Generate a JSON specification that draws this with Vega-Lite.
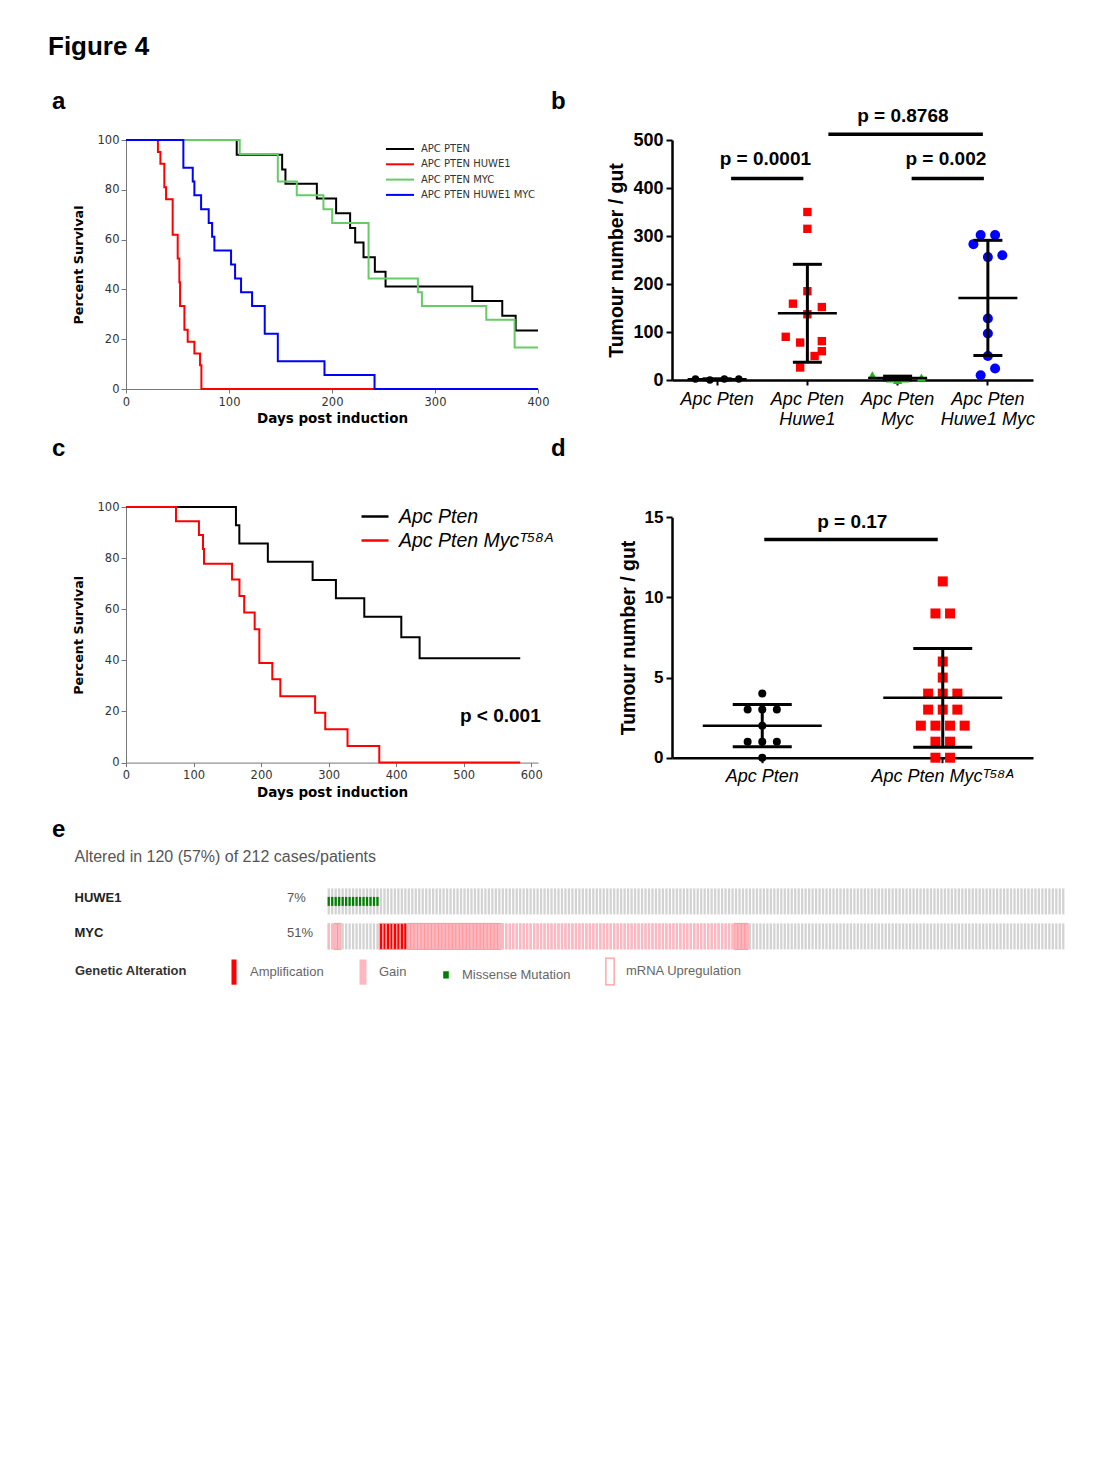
{
"$schema":"https://vega.github.io/schema/vega-lite/v6.json",
"background":"white",
"padding":{"left":48,"top":34,"right":20,"bottom":20},
"title":{"text":"Figure 4","anchor":"start","frame":"group","dx":-78,"offset":9,"baseline":"alphabetic","font":"Liberation Sans","fontSize":26,"fontWeight":"bold","color":"#000"},
"columns":2,
"align":"each",
"bounds":"flush",
"spacing":{"row":118,"column":134},
"resolve":{"scale":{"color":"independent","shape":"independent","size":"independent","xOffset":"independent","x":"independent","y":"independent"},"legend":{"color":"independent","shape":"independent"}},
"config":{"view":{"stroke":null},"axis":{"grid":false},"font":"Liberation Sans","legend":{"padding":0}},
"datasets":{
"aSurv":[
{"group":"APC PTEN HUWE1","day":0,"pct":100},{"group":"APC PTEN HUWE1","day":31,"pct":95.2},{"group":"APC PTEN HUWE1","day":33.4,"pct":90.5},{"group":"APC PTEN HUWE1","day":37.2,"pct":81},{"group":"APC PTEN HUWE1","day":38.9,"pct":76.2},{"group":"APC PTEN HUWE1","day":45.3,"pct":61.9},{"group":"APC PTEN HUWE1","day":50.2,"pct":52.4},{"group":"APC PTEN HUWE1","day":51.8,"pct":42.9},{"group":"APC PTEN HUWE1","day":52.5,"pct":33.3},{"group":"APC PTEN HUWE1","day":56.7,"pct":23.8},{"group":"APC PTEN HUWE1","day":59.9,"pct":19},{"group":"APC PTEN HUWE1","day":66.4,"pct":14.3},{"group":"APC PTEN HUWE1","day":71.9,"pct":9.5},{"group":"APC PTEN HUWE1","day":73.2,"pct":0},{"group":"APC PTEN HUWE1","day":400,"pct":0},
{"group":"APC PTEN","day":0,"pct":100},{"group":"APC PTEN","day":107.5,"pct":94.1},{"group":"APC PTEN","day":151.6,"pct":88.2},{"group":"APC PTEN","day":154.8,"pct":82.4},{"group":"APC PTEN","day":185.3,"pct":76.5},{"group":"APC PTEN","day":204,"pct":70.6},{"group":"APC PTEN","day":217.6,"pct":64.7},{"group":"APC PTEN","day":222.5,"pct":58.8},{"group":"APC PTEN","day":230.6,"pct":52.9},{"group":"APC PTEN","day":241.6,"pct":47.1},{"group":"APC PTEN","day":252,"pct":41.2},{"group":"APC PTEN","day":336.2,"pct":35.3},{"group":"APC PTEN","day":365.3,"pct":29.4},{"group":"APC PTEN","day":378.3,"pct":23.5},{"group":"APC PTEN","day":400,"pct":23.5},
{"group":"APC PTEN MYC","day":0,"pct":100},{"group":"APC PTEN MYC","day":110.4,"pct":94.4},{"group":"APC PTEN MYC","day":147.4,"pct":83.3},{"group":"APC PTEN MYC","day":165.8,"pct":77.8},{"group":"APC PTEN MYC","day":191.7,"pct":72.2},{"group":"APC PTEN MYC","day":200.2,"pct":66.7},{"group":"APC PTEN MYC","day":235.5,"pct":44.4},{"group":"APC PTEN MYC","day":283.4,"pct":38.9},{"group":"APC PTEN MYC","day":287.3,"pct":33.3},{"group":"APC PTEN MYC","day":349.8,"pct":27.8},{"group":"APC PTEN MYC","day":377.3,"pct":16.7},{"group":"APC PTEN MYC","day":400,"pct":16.7},
{"group":"APC PTEN HUWE1 MYC","day":0,"pct":100},{"group":"APC PTEN HUWE1 MYC","day":55.7,"pct":88.9},{"group":"APC PTEN HUWE1 MYC","day":64.8,"pct":83.3},{"group":"APC PTEN HUWE1 MYC","day":66.4,"pct":77.8},{"group":"APC PTEN HUWE1 MYC","day":72.9,"pct":72.2},{"group":"APC PTEN HUWE1 MYC","day":80.3,"pct":66.7},{"group":"APC PTEN HUWE1 MYC","day":83.6,"pct":61.1},{"group":"APC PTEN HUWE1 MYC","day":85.8,"pct":55.6},{"group":"APC PTEN HUWE1 MYC","day":102,"pct":50},{"group":"APC PTEN HUWE1 MYC","day":105.9,"pct":44.4},{"group":"APC PTEN HUWE1 MYC","day":111.7,"pct":38.9},{"group":"APC PTEN HUWE1 MYC","day":122.4,"pct":33.3},{"group":"APC PTEN HUWE1 MYC","day":134.7,"pct":22.2},{"group":"APC PTEN HUWE1 MYC","day":147.4,"pct":11.1},{"group":"APC PTEN HUWE1 MYC","day":192.7,"pct":5.6},{"group":"APC PTEN HUWE1 MYC","day":241.3,"pct":0},{"group":"APC PTEN HUWE1 MYC","day":400,"pct":0}
],
"bPts":[
{"group":"Apc Pten","value":2,"slot":-3},{"group":"Apc Pten","value":0,"slot":-1},{"group":"Apc Pten","value":2,"slot":1},{"group":"Apc Pten","value":2,"slot":3},
{"group":"Apc Pten|Huwe1","value":350,"slot":0},{"group":"Apc Pten|Huwe1","value":315,"slot":0},{"group":"Apc Pten|Huwe1","value":185,"slot":0},{"group":"Apc Pten|Huwe1","value":159,"slot":-2},{"group":"Apc Pten|Huwe1","value":152,"slot":2},{"group":"Apc Pten|Huwe1","value":137,"slot":0},{"group":"Apc Pten|Huwe1","value":90,"slot":-3},{"group":"Apc Pten|Huwe1","value":78,"slot":-1},{"group":"Apc Pten|Huwe1","value":81,"slot":2},{"group":"Apc Pten|Huwe1","value":60,"slot":2},{"group":"Apc Pten|Huwe1","value":50,"slot":1},{"group":"Apc Pten|Huwe1","value":26,"slot":-1},
{"group":"Apc Pten|Myc","value":10,"slot":-3.5},{"group":"Apc Pten|Myc","value":3,"slot":-1},{"group":"Apc Pten|Myc","value":0,"slot":0},{"group":"Apc Pten|Myc","value":3,"slot":1},{"group":"Apc Pten|Myc","value":5,"slot":3.3},
{"group":"Apc Pten|Huwe1 Myc","value":302,"slot":-1},{"group":"Apc Pten|Huwe1 Myc","value":302,"slot":1},{"group":"Apc Pten|Huwe1 Myc","value":283,"slot":-2},{"group":"Apc Pten|Huwe1 Myc","value":256,"slot":0},{"group":"Apc Pten|Huwe1 Myc","value":260,"slot":2},{"group":"Apc Pten|Huwe1 Myc","value":128,"slot":0},{"group":"Apc Pten|Huwe1 Myc","value":97,"slot":0},{"group":"Apc Pten|Huwe1 Myc","value":50,"slot":0},{"group":"Apc Pten|Huwe1 Myc","value":10,"slot":-1},{"group":"Apc Pten|Huwe1 Myc","value":24,"slot":1}
],
"bSum":[
{"group":"Apc Pten","mean":1.5,"lo":0.5,"hi":2.5},{"group":"Apc Pten|Huwe1","mean":139,"lo":37,"hi":241},{"group":"Apc Pten|Myc","mean":4.2,"lo":0.4,"hi":8},{"group":"Apc Pten|Huwe1 Myc","mean":171,"lo":51,"hi":291}
],
"cSurv":[
{"group":"Apc Pten","day":0,"pct":100},{"group":"Apc Pten","day":162.8,"pct":92.9},{"group":"Apc Pten","day":167.8,"pct":85.7},{"group":"Apc Pten","day":210,"pct":78.6},{"group":"Apc Pten","day":276.3,"pct":71.4},{"group":"Apc Pten","day":310.8,"pct":64.3},{"group":"Apc Pten","day":352.8,"pct":57.1},{"group":"Apc Pten","day":407.6,"pct":49},{"group":"Apc Pten","day":434.7,"pct":40.8},{"group":"Apc Pten","day":583.7,"pct":40.8},
{"group":"Apc Pten Myc\u1d40\u2075\u2078\u1d2c","day":0,"pct":100},{"group":"Apc Pten Myc\u1d40\u2075\u2078\u1d2c","day":74,"pct":94.4},{"group":"Apc Pten Myc\u1d40\u2075\u2078\u1d2c","day":108,"pct":89},{"group":"Apc Pten Myc\u1d40\u2075\u2078\u1d2c","day":114,"pct":83.6},{"group":"Apc Pten Myc\u1d40\u2075\u2078\u1d2c","day":115.5,"pct":77.8},{"group":"Apc Pten Myc\u1d40\u2075\u2078\u1d2c","day":157,"pct":71.6},{"group":"Apc Pten Myc\u1d40\u2075\u2078\u1d2c","day":168,"pct":65.2},{"group":"Apc Pten Myc\u1d40\u2075\u2078\u1d2c","day":175,"pct":58.7},{"group":"Apc Pten Myc\u1d40\u2075\u2078\u1d2c","day":190.5,"pct":52.2},{"group":"Apc Pten Myc\u1d40\u2075\u2078\u1d2c","day":197.4,"pct":39},{"group":"Apc Pten Myc\u1d40\u2075\u2078\u1d2c","day":216.6,"pct":32.6},{"group":"Apc Pten Myc\u1d40\u2075\u2078\u1d2c","day":228.5,"pct":26},{"group":"Apc Pten Myc\u1d40\u2075\u2078\u1d2c","day":280,"pct":19.5},{"group":"Apc Pten Myc\u1d40\u2075\u2078\u1d2c","day":295,"pct":13},{"group":"Apc Pten Myc\u1d40\u2075\u2078\u1d2c","day":328,"pct":6.5},{"group":"Apc Pten Myc\u1d40\u2075\u2078\u1d2c","day":375,"pct":0},{"group":"Apc Pten Myc\u1d40\u2075\u2078\u1d2c","day":583.7,"pct":0}
],
"dPts":[
{"group":"Apc Pten","value":4,"slot":0},{"group":"Apc Pten","value":3,"slot":-2},{"group":"Apc Pten","value":3,"slot":0},{"group":"Apc Pten","value":3,"slot":2},{"group":"Apc Pten","value":2,"slot":0},{"group":"Apc Pten","value":1,"slot":-2},{"group":"Apc Pten","value":1,"slot":0},{"group":"Apc Pten","value":1,"slot":2},{"group":"Apc Pten","value":0,"slot":0},
{"group":"Apc Pten Myc\u1d40\u2075\u2078\u1d2c","value":11,"slot":0},{"group":"Apc Pten Myc\u1d40\u2075\u2078\u1d2c","value":9,"slot":-1},{"group":"Apc Pten Myc\u1d40\u2075\u2078\u1d2c","value":9,"slot":1},{"group":"Apc Pten Myc\u1d40\u2075\u2078\u1d2c","value":6,"slot":0},{"group":"Apc Pten Myc\u1d40\u2075\u2078\u1d2c","value":5,"slot":0},{"group":"Apc Pten Myc\u1d40\u2075\u2078\u1d2c","value":4,"slot":-2},{"group":"Apc Pten Myc\u1d40\u2075\u2078\u1d2c","value":4,"slot":0},{"group":"Apc Pten Myc\u1d40\u2075\u2078\u1d2c","value":4,"slot":2},{"group":"Apc Pten Myc\u1d40\u2075\u2078\u1d2c","value":3,"slot":-2},{"group":"Apc Pten Myc\u1d40\u2075\u2078\u1d2c","value":3,"slot":0},{"group":"Apc Pten Myc\u1d40\u2075\u2078\u1d2c","value":3,"slot":2},{"group":"Apc Pten Myc\u1d40\u2075\u2078\u1d2c","value":2,"slot":-3},{"group":"Apc Pten Myc\u1d40\u2075\u2078\u1d2c","value":2,"slot":-1},{"group":"Apc Pten Myc\u1d40\u2075\u2078\u1d2c","value":2,"slot":1},{"group":"Apc Pten Myc\u1d40\u2075\u2078\u1d2c","value":2,"slot":3},{"group":"Apc Pten Myc\u1d40\u2075\u2078\u1d2c","value":1,"slot":-1},{"group":"Apc Pten Myc\u1d40\u2075\u2078\u1d2c","value":1,"slot":1},{"group":"Apc Pten Myc\u1d40\u2075\u2078\u1d2c","value":0,"slot":-1},{"group":"Apc Pten Myc\u1d40\u2075\u2078\u1d2c","value":0,"slot":1}
],
"dSum":[
{"group":"Apc Pten","mean":2,"lo":0.68,"hi":3.32},{"group":"Apc Pten Myc\u1d40\u2075\u2078\u1d2c","mean":3.74,"lo":0.65,"hi":6.82}
],
"eCases":[
{"c":1,"HUWE1":"M","MYC":"G"},{"c":2,"HUWE1":"M","MYC":"G"},{"c":3,"HUWE1":"M","MYC":"G","R":1},{"c":4,"HUWE1":"M","MYC":"G","R":1},
{"c":5,"HUWE1":"M"},{"c":6,"HUWE1":"M"},{"c":7,"HUWE1":"M"},{"c":8,"HUWE1":"M"},{"c":9,"HUWE1":"M"},{"c":10,"HUWE1":"M"},{"c":11,"HUWE1":"M"},{"c":12,"HUWE1":"M"},{"c":13,"HUWE1":"M"},{"c":14,"HUWE1":"M"},{"c":15,"HUWE1":"M"},
{"c":16,"MYC":"A","R":1},{"c":17,"MYC":"A","R":1},{"c":18,"MYC":"A","R":1},{"c":19,"MYC":"A","R":1},{"c":20,"MYC":"A","R":1},{"c":21,"MYC":"A","R":1},{"c":22,"MYC":"A","R":1},{"c":23,"MYC":"A"},
{"c":24,"MYC":"G","R":1},{"c":25,"MYC":"G","R":1},{"c":26,"MYC":"G","R":1},{"c":27,"MYC":"G","R":1},{"c":28,"MYC":"G","R":1},{"c":29,"MYC":"G","R":1},{"c":30,"MYC":"G","R":1},{"c":31,"MYC":"G","R":1},{"c":32,"MYC":"G","R":1},{"c":33,"MYC":"G","R":1},{"c":34,"MYC":"G","R":1},{"c":35,"MYC":"G","R":1},{"c":36,"MYC":"G","R":1},{"c":37,"MYC":"G","R":1},{"c":38,"MYC":"G","R":1},{"c":39,"MYC":"G","R":1},{"c":40,"MYC":"G","R":1},{"c":41,"MYC":"G","R":1},{"c":42,"MYC":"G","R":1},{"c":43,"MYC":"G","R":1},{"c":44,"MYC":"G","R":1},{"c":45,"MYC":"G","R":1},{"c":46,"MYC":"G","R":1},{"c":47,"MYC":"G","R":1},{"c":48,"MYC":"G","R":1},{"c":49,"MYC":"G","R":1},{"c":50,"MYC":"G","R":1},
{"c":51,"MYC":"G"},{"c":52,"MYC":"G"},{"c":53,"MYC":"G"},{"c":54,"MYC":"G"},{"c":55,"MYC":"G"},{"c":56,"MYC":"G"},{"c":57,"MYC":"G"},{"c":58,"MYC":"G"},{"c":59,"MYC":"G"},{"c":60,"MYC":"G"},{"c":61,"MYC":"G"},{"c":62,"MYC":"G"},{"c":63,"MYC":"G"},{"c":64,"MYC":"G"},{"c":65,"MYC":"G"},{"c":66,"MYC":"G"},{"c":67,"MYC":"G"},{"c":68,"MYC":"G"},{"c":69,"MYC":"G"},{"c":70,"MYC":"G"},{"c":71,"MYC":"G"},{"c":72,"MYC":"G"},{"c":73,"MYC":"G"},{"c":74,"MYC":"G"},{"c":75,"MYC":"G"},{"c":76,"MYC":"G"},{"c":77,"MYC":"G"},{"c":78,"MYC":"G"},{"c":79,"MYC":"G"},{"c":80,"MYC":"G"},{"c":81,"MYC":"G"},{"c":82,"MYC":"G"},{"c":83,"MYC":"G"},{"c":84,"MYC":"G"},{"c":85,"MYC":"G"},{"c":86,"MYC":"G"},{"c":87,"MYC":"G"},{"c":88,"MYC":"G"},{"c":89,"MYC":"G"},{"c":90,"MYC":"G"},{"c":91,"MYC":"G"},{"c":92,"MYC":"G"},{"c":93,"MYC":"G"},{"c":94,"MYC":"G"},{"c":95,"MYC":"G"},{"c":96,"MYC":"G"},{"c":97,"MYC":"G"},{"c":98,"MYC":"G"},{"c":99,"MYC":"G"},{"c":100,"MYC":"G"},{"c":101,"MYC":"G"},{"c":102,"MYC":"G"},{"c":103,"MYC":"G"},{"c":104,"MYC":"G"},{"c":105,"MYC":"G"},{"c":106,"MYC":"G"},{"c":107,"MYC":"G"},{"c":108,"MYC":"G"},{"c":109,"MYC":"G"},{"c":110,"MYC":"G"},{"c":111,"MYC":"G"},{"c":112,"MYC":"G"},{"c":113,"MYC":"G"},{"c":114,"MYC":"G"},{"c":115,"MYC":"G"},{"c":116,"MYC":"G"},{"c":117,"MYC":"G"},
{"c":118,"MYC":"G","R":1},{"c":119,"MYC":"G","R":1},{"c":120,"MYC":"G","R":1},{"c":121,"MYC":"G","R":1},
{"c":122},{"c":123},{"c":124},{"c":125},{"c":126},{"c":127},{"c":128},{"c":129},{"c":130},{"c":131},{"c":132},{"c":133},{"c":134},{"c":135},{"c":136},{"c":137},{"c":138},{"c":139},{"c":140},{"c":141},{"c":142},{"c":143},{"c":144},{"c":145},{"c":146},{"c":147},{"c":148},{"c":149},{"c":150},{"c":151},{"c":152},{"c":153},{"c":154},{"c":155},{"c":156},{"c":157},{"c":158},{"c":159},{"c":160},{"c":161},{"c":162},{"c":163},{"c":164},{"c":165},{"c":166},{"c":167},{"c":168},{"c":169},{"c":170},{"c":171},{"c":172},{"c":173},{"c":174},{"c":175},{"c":176},{"c":177},{"c":178},{"c":179},{"c":180},{"c":181},{"c":182},{"c":183},{"c":184},{"c":185},{"c":186},{"c":187},{"c":188},{"c":189},{"c":190},{"c":191},{"c":192},{"c":193},{"c":194},{"c":195},{"c":196},{"c":197},{"c":198},{"c":199},{"c":200},{"c":201},{"c":202},{"c":203},{"c":204},{"c":205},{"c":206},{"c":207},{"c":208},{"c":209},{"c":210},{"c":211},{"c":212}
]
},
"concat":[
{
"width":412,"height":249,
"title":{"text":"a","anchor":"start","frame":"group","dx":-74,"offset":1,"baseline":"alphabetic","font":"Liberation Sans","fontSize":24,"fontWeight":"bold","color":"#000"},
"data":{"name":"aSurv"},
"mark":{"type":"line","interpolate":"step-after","strokeWidth":2},
"encoding":{
"x":{"field":"day","type":"quantitative","scale":{"domain":[0,400],"nice":false},"axis":{"values":[0,100,200,300,400],"title":"Days post induction","titleFont":"DejaVu Sans","titleFontSize":13.5,"titleFontWeight":"bold","titleColor":"#000","titlePadding":4,"labelFont":"DejaVu Sans","labelFontSize":11.5,"labelColor":"#333","labelPadding":3,"labelFlush":false,"tickSize":4,"tickColor":"#777","domainColor":"#777"}},
"y":{"field":"pct","type":"quantitative","scale":{"domain":[0,100],"nice":false},"axis":{"values":[0,20,40,60,80,100],"title":"Percent Survival","titleFont":"DejaVu Sans","titleFontSize":12.8,"titleFontWeight":"bold","titleColor":"#000","titlePadding":12,"labelFont":"DejaVu Sans","labelFontSize":11.5,"labelColor":"#333","labelPadding":2,"tickSize":5,"tickColor":"#777","domainColor":"#777"}},
"color":{"field":"group","type":"nominal","scale":{"domain":["APC PTEN","APC PTEN HUWE1","APC PTEN MYC","APC PTEN HUWE1 MYC"],"range":["#000000","#ff0000","#66cc66","#0000ff"]},"legend":{"orient":"none","direction":"vertical","legendX":268,"legendY":3,"title":null,"symbolType":"M-2.8,0H2.8","symbolSize":100,"symbolStrokeWidth":2,"labelFont":"DejaVu Sans","labelFontSize":10,"labelColor":"#333","labelOffset":15,"rowPadding":4.3}}
}
},
{
"width":361,"height":240,
"title":{"text":"b","anchor":"start","frame":"group","dx":-121,"offset":-26,"baseline":"alphabetic","font":"Liberation Sans","fontSize":24,"fontWeight":"bold","color":"#000"},
"layer":[
{"data":{"name":"bPts"},"mark":{"type":"point","filled":true,"opacity":1,"strokeWidth":0},
"encoding":{
"x":{"field":"group","type":"nominal","title":null,"scale":{"domain":["Apc Pten","Apc Pten|Huwe1","Apc Pten|Myc","Apc Pten|Huwe1 Myc"],"paddingInner":0,"paddingOuter":0},"axis":{"labelExpr":"split(datum.label, '|')","labelFont":"Liberation Sans","labelFontStyle":"italic","labelFontSize":18,"labelColor":"#000","labelLineHeight":20,"labelPadding":5,"labelAngle":0,"tickSize":5,"tickWidth":2,"tickColor":"#000","domainColor":"#000","domainWidth":2.5}},
"xOffset":{"field":"slot","type":"quantitative","scale":{"domain":[-6.25,6.25],"nice":false,"zero":false}},
"y":{"field":"value","type":"quantitative","title":"Tumour number / gut","scale":{"domain":[0,500],"nice":false},"axis":{"values":[0,100,200,300,400,500],"titleFont":"Liberation Sans","titleFontSize":19.5,"titleFontWeight":"bold","titleColor":"#000","titlePadding":6,"labelFont":"Liberation Sans","labelFontSize":18,"labelFontWeight":"bold","labelColor":"#000","labelPadding":3,"tickSize":6,"tickWidth":2,"tickColor":"#000","domainColor":"#000","domainWidth":2.5}},
"color":{"field":"group","type":"nominal","scale":{"domain":["Apc Pten","Apc Pten|Huwe1","Apc Pten|Myc","Apc Pten|Huwe1 Myc"],"range":["#000000","#ff0000","#22bb22","#0000ff"]},"legend":null},
"shape":{"field":"group","type":"nominal","scale":{"domain":["Apc Pten","Apc Pten|Huwe1","Apc Pten|Myc","Apc Pten|Huwe1 Myc"],"range":["circle","square","triangle-up","circle"]},"legend":null},
"size":{"field":"group","type":"nominal","scale":{"domain":["Apc Pten","Apc Pten|Huwe1","Apc Pten|Myc","Apc Pten|Huwe1 Myc"],"range":[55,100,60,135]},"legend":null}
}},
{"data":{"name":"bSum"},"mark":{"type":"rule","color":"#000","strokeWidth":3},"encoding":{"x":{"field":"group","type":"nominal","title":null},"y":{"field":"lo","type":"quantitative","title":"Tumour number / gut"},"y2":{"field":"hi"}}},
{"data":{"name":"bSum"},"mark":{"type":"tick","color":"#000","size":29,"thickness":3,"opacity":1},"encoding":{"x":{"field":"group","type":"nominal","title":null},"y":{"field":"lo","type":"quantitative","title":"Tumour number / gut"}}},
{"data":{"name":"bSum"},"mark":{"type":"tick","color":"#000","size":29,"thickness":3,"opacity":1},"encoding":{"x":{"field":"group","type":"nominal","title":null},"y":{"field":"hi","type":"quantitative","title":"Tumour number / gut"}}},
{"data":{"name":"bSum"},"mark":{"type":"tick","color":"#000","size":59,"thickness":2.5,"opacity":1},"encoding":{"x":{"field":"group","type":"nominal","title":null},"y":{"field":"mean","type":"quantitative","title":"Tumour number / gut"}}},
{"data":{"values":[{"from":"Apc Pten","to":"Apc Pten|Huwe1","p":"p = 0.0001"},{"from":"Apc Pten|Myc","to":"Apc Pten|Huwe1 Myc","p":"p = 0.002"}]},
"layer":[
{"mark":{"type":"rule","color":"#000","strokeWidth":3.5,"xOffset":14,"x2Offset":-4},"encoding":{"x":{"field":"from","type":"nominal","title":null},"x2":{"field":"to"},"y":{"datum":420}}},
{"mark":{"type":"text","font":"Liberation Sans","fontSize":19,"fontWeight":"bold","color":"#000","baseline":"alphabetic","dx":-42},"encoding":{"x":{"field":"to","type":"nominal","title":null},"y":{"datum":447},"text":{"field":"p"}}}
]},
{"data":{"values":[{"from":"Apc Pten|Huwe1","to":"Apc Pten|Huwe1 Myc","p":"p = 0.8768"}]},
"layer":[
{"mark":{"type":"rule","color":"#000","strokeWidth":3.5,"xOffset":21,"x2Offset":-5},"encoding":{"x":{"field":"from","type":"nominal","title":null},"x2":{"field":"to"},"y":{"datum":512}}},
{"mark":{"type":"text","font":"Liberation Sans","fontSize":19,"fontWeight":"bold","color":"#000","baseline":"alphabetic","dx":-85},"encoding":{"x":{"field":"to","type":"nominal","title":null},"y":{"datum":537},"text":{"field":"p"}}}
]}
]
},
{
"width":412,"height":255.6,
"title":{"text":"c","anchor":"start","frame":"group","dx":-74,"offset":21,"baseline":"alphabetic","font":"Liberation Sans","fontSize":24,"fontWeight":"bold","color":"#000"},
"layer":[
{"data":{"name":"cSurv"},"mark":{"type":"line","interpolate":"step-after","strokeWidth":2},
"encoding":{
"x":{"field":"day","type":"quantitative","scale":{"domain":[0,610],"nice":false},"axis":{"values":[0,100,200,300,400,500,600],"title":"Days post induction","titleFont":"DejaVu Sans","titleFontSize":13.5,"titleFontWeight":"bold","titleColor":"#000","titlePadding":4,"labelFont":"DejaVu Sans","labelFontSize":11.5,"labelColor":"#333","labelPadding":3,"labelFlush":false,"tickSize":4,"tickColor":"#777","domainColor":"#777"}},
"y":{"field":"pct","type":"quantitative","scale":{"domain":[0,100],"nice":false},"axis":{"values":[0,20,40,60,80,100],"title":"Percent Survival","titleFont":"DejaVu Sans","titleFontSize":12.8,"titleFontWeight":"bold","titleColor":"#000","titlePadding":12,"labelFont":"DejaVu Sans","labelFontSize":11.5,"labelColor":"#333","labelPadding":2,"tickSize":5,"tickColor":"#777","domainColor":"#777"}},
"color":{"field":"group","type":"nominal","scale":{"domain":["Apc Pten","Apc Pten Myc\u1d40\u2075\u2078\u1d2c"],"range":["#000000","#ff0000"]},"legend":{"orient":"none","direction":"vertical","legendX":237.5,"legendY":-2,"title":null,"symbolType":"M-1.35,0H1.35","symbolSize":400,"symbolStrokeWidth":2.5,"labelFont":"Liberation Sans","labelFontStyle":"italic","labelFontSize":19.5,"labelColor":"#000","labelOffset":12.5,"rowPadding":3}}
}},
{"data":{"values":[{"p":"p < 0.001"}]},"mark":{"type":"text","align":"right","baseline":"alphabetic","font":"Liberation Sans","fontSize":19,"fontWeight":"bold","color":"#000"},"encoding":{"x":{"datum":614},"y":{"datum":16},"text":{"field":"p"}}}
]
},
{
"width":361,"height":250.7,
"title":{"text":"d","anchor":"start","frame":"group","dx":-121,"offset":27,"baseline":"alphabetic","font":"Liberation Sans","fontSize":24,"fontWeight":"bold","color":"#000"},
"layer":[
{"data":{"name":"dPts"},"mark":{"type":"point","filled":true,"opacity":1,"strokeWidth":0},
"encoding":{
"x":{"field":"group","type":"nominal","title":null,"scale":{"domain":["Apc Pten","Apc Pten Myc\u1d40\u2075\u2078\u1d2c"],"paddingInner":0,"paddingOuter":0},"axis":{"labelFont":"Liberation Sans","labelFontStyle":"italic","labelFontSize":18,"labelColor":"#000","labelPadding":5,"labelAngle":0,"tickSize":5,"tickWidth":2,"tickColor":"#000","domainColor":"#000","domainWidth":2.5}},
"xOffset":{"field":"slot","type":"quantitative","scale":{"domain":[-12.36,12.36],"nice":false,"zero":false}},
"y":{"field":"value","type":"quantitative","title":"Tumour number / gut","scale":{"domain":[0,15],"range":[250.7,10.3],"nice":false},"axis":{"values":[0,5,10,15],"titleFont":"Liberation Sans","titleFontSize":19.5,"titleFontWeight":"bold","titleColor":"#000","titlePadding":6,"labelFont":"Liberation Sans","labelFontSize":17,"labelFontWeight":"bold","labelColor":"#000","labelPadding":3,"tickSize":6,"tickWidth":2,"tickColor":"#000","domainColor":"#000","domainWidth":2.5}},
"color":{"field":"group","type":"nominal","scale":{"domain":["Apc Pten","Apc Pten Myc\u1d40\u2075\u2078\u1d2c"],"range":["#000000","#ff0000"]},"legend":null},
"shape":{"field":"group","type":"nominal","scale":{"domain":["Apc Pten","Apc Pten Myc\u1d40\u2075\u2078\u1d2c"],"range":["circle","square"]},"legend":null},
"size":{"field":"group","type":"nominal","scale":{"domain":["Apc Pten","Apc Pten Myc\u1d40\u2075\u2078\u1d2c"],"range":[64,100]},"legend":null}
}},
{"data":{"name":"dSum"},"mark":{"type":"rule","color":"#000","strokeWidth":3},"encoding":{"x":{"field":"group","type":"nominal","title":null},"y":{"field":"lo","type":"quantitative","title":"Tumour number / gut"},"y2":{"field":"hi"}}},
{"data":{"name":"dSum"},"mark":{"type":"tick","color":"#000","size":59,"thickness":3,"opacity":1},"encoding":{"x":{"field":"group","type":"nominal","title":null},"y":{"field":"lo","type":"quantitative","title":"Tumour number / gut"}}},
{"data":{"name":"dSum"},"mark":{"type":"tick","color":"#000","size":59,"thickness":3,"opacity":1},"encoding":{"x":{"field":"group","type":"nominal","title":null},"y":{"field":"hi","type":"quantitative","title":"Tumour number / gut"}}},
{"data":{"name":"dSum"},"mark":{"type":"tick","color":"#000","size":119,"thickness":2.5,"opacity":1},"encoding":{"x":{"field":"group","type":"nominal","title":null},"y":{"field":"mean","type":"quantitative","title":"Tumour number / gut"}}},
{"data":{"values":[{"from":"Apc Pten","to":"Apc Pten Myc\u1d40\u2075\u2078\u1d2c","p":"p = 0.17"}]},
"layer":[
{"mark":{"type":"rule","color":"#000","strokeWidth":3.5,"xOffset":2,"x2Offset":-5},"encoding":{"x":{"field":"from","type":"nominal","title":null},"x2":{"field":"to"},"y":{"datum":13.62}}},
{"mark":{"type":"text","font":"Liberation Sans","fontSize":19,"fontWeight":"bold","color":"#000","baseline":"alphabetic","dx":90},"encoding":{"x":{"field":"from","type":"nominal","title":null},"y":{"datum":14.33},"text":{"field":"p"}}}
]}
]
},
{
"width":412,"height":75.8,
"title":{"text":"e","anchor":"start","frame":"group","dx":-74,"offset":-12.8,"baseline":"alphabetic","font":"Liberation Sans","fontSize":24,"fontWeight":"bold","color":"#000"},
"layer":[
{"data":{"name":"eCases"},
"transform":[{"fold":["HUWE1","MYC"],"as":["gene","alt"]}],
"encoding":{
"x":{"field":"c","type":"quantitative","scale":{"domain":[0.5,212.5],"range":[201,939],"nice":false,"zero":false},"axis":{"orient":"top","labels":false,"ticks":false,"domain":false,"grid":false,"title":"Altered in 120 (57%) of 212 cases/patients","titleX":-52,"titleY":-19.6,"titleAlign":"left","titleAnchor":"start","titleAngle":0,"titleBaseline":"alphabetic","titleFont":"Liberation Sans","titleFontSize":16,"titleFontWeight":"normal","titleColor":"#555"}},
"y":{"field":"gene","type":"nominal","scale":{"domain":["HUWE1","MYC"],"paddingInner":0,"paddingOuter":0.083},"axis":{"title":null,"domain":false,"ticks":false,"tickSize":0,"labelAlign":"left","labelPadding":52,"labelFont":"Liberation Sans","labelFontWeight":"bold","labelFontSize":13,"labelColor":"#222","labelOffset":-3}}
},
"layer":[
{"mark":{"type":"tick","color":"#d3d3d3","thickness":2.3,"size":26,"opacity":1}},
{"transform":[{"filter":"datum.alt === 'A' || datum.alt === 'G'"}],"mark":{"type":"tick","thickness":2.3,"size":26,"opacity":1},
"encoding":{"color":{"field":"alt","type":"nominal","scale":{"domain":["A","G","M","R"],"range":["#ff0000","#ffb6c1","#008000","#ff9999"]}}}},
{"transform":[{"filter":"datum.alt === 'M'"}],"mark":{"type":"tick","thickness":2.3,"size":9,"opacity":1},"encoding":{"color":{"field":"alt","type":"nominal"}}},
{"transform":[{"filter":"datum.gene === 'MYC' && datum.R === 1"}],"mark":{"type":"tick","filled":false,"color":"#ff9999","thickness":3.48,"size":26,"strokeWidth":1,"opacity":1}},
{"transform":[{"filter":"datum.alt === 'A' || datum.alt === 'G' || datum.alt === 'M'"}],"mark":{"type":"point","filled":true,"opacity":0,"strokeWidth":0,"size":10},
"encoding":{
"color":{"field":"alt","type":"nominal","legend":{"orient":"none","legendX":-51,"legendY":76.4,"direction":"horizontal","title":"Genetic Alteration","titleOrient":"left","titleFont":"Liberation Sans","titleFontSize":13,"titleFontWeight":"bold","titleColor":"#333","titlePadding":33,"titleBaseline":"middle","labelFont":"Liberation Sans","labelFontSize":13,"labelColor":"#666","labelOffset":2,"columnPadding":25,"symbolSize":784,"symbolOpacity":1,"symbolStrokeWidth":0,
"labelExpr":"datum.label === 'A' ? 'Amplification' : datum.label === 'G' ? 'Gain' : datum.label === 'M' ? 'Missense Mutation' : 'mRNA Upregulation'"}},
"shape":{"field":"alt","type":"nominal","scale":{"domain":["A","G","M","R"],"range":["M-0.18,-0.9H0.18V0.9H-0.18Z","M-0.25,-0.9H0.25V0.9H-0.25Z","M-0.2,-0.26H0.2V0.26H-0.2Z","M-0.34,-1H0.34V1H-0.34Z M-0.25,-0.91V0.91H0.25V-0.91Z"]},"legend":{"orient":"none","legendX":-51,"legendY":76.4,"direction":"horizontal","title":"Genetic Alteration","titleOrient":"left","titleFont":"Liberation Sans","titleFontSize":13,"titleFontWeight":"bold","titleColor":"#333","titlePadding":33,"titleBaseline":"middle","labelFont":"Liberation Sans","labelFontSize":13,"labelColor":"#666","labelOffset":2,"columnPadding":25,"symbolSize":784,"symbolOpacity":1,"symbolStrokeWidth":0,
"labelExpr":"datum.label === 'A' ? 'Amplification' : datum.label === 'G' ? 'Gain' : datum.label === 'M' ? 'Missense Mutation' : 'mRNA Upregulation'"}}
}}
]},
{"data":{"values":[{"gene":"HUWE1","pct":"7%"},{"gene":"MYC","pct":"51%"}]},"mark":{"type":"text","align":"left","baseline":"middle","font":"Liberation Sans","fontSize":13,"color":"#555","dy":-3},"encoding":{"x":{"datum":-11,"type":"quantitative"},"y":{"field":"gene","type":"nominal"},"text":{"field":"pct","type":"nominal"}}}
]
}
]
}
